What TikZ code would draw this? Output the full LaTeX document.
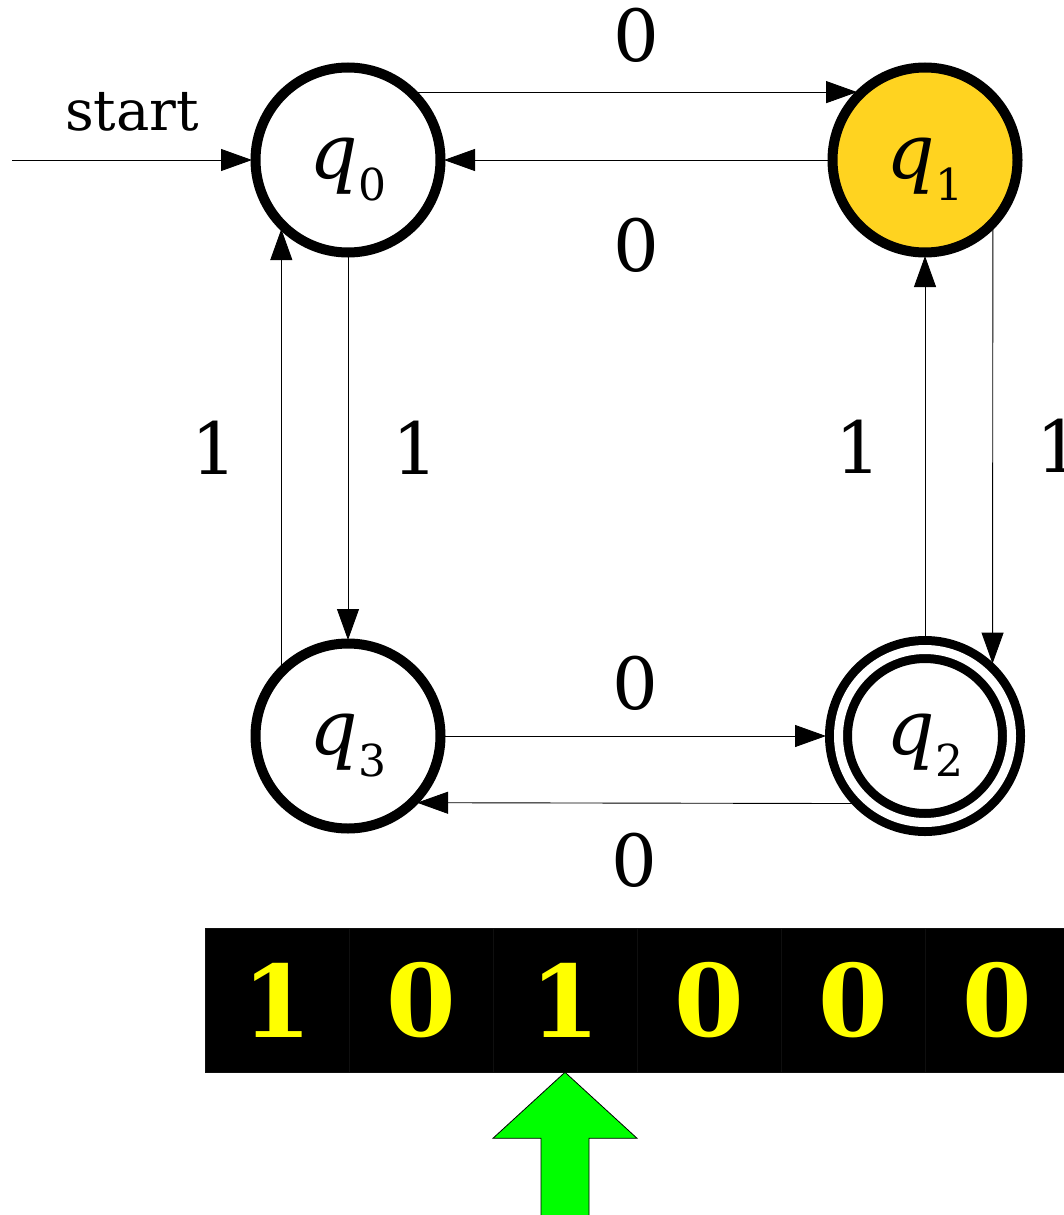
\documentclass[tikz,border=0pt]{standalone}
\usepackage{fontspec}
\setmainfont{DejaVu Serif}
\usetikzlibrary{arrows.meta}
\definecolor{gold}{RGB}{255,211,32}
\definecolor{tapeyellow}{RGB}{255,255,0}
\definecolor{headgreen}{RGB}{0,255,0}
\newcommand{\qname}[1]{{\fontsize{76}{80}\selectfont\itshape q}\kern1pt{\fontsize{44}{48}\selectfont\raisebox{-22pt}{#1}}}

\begin{document}
\begin{tikzpicture}[x=1pt, y=-1pt, ->, >={Triangle[length=31pt,width=22pt]}, line width=0.9pt,
    qstate/.style={circle, draw, line width=10pt, minimum size=185pt, inner sep=0pt, outer sep=3.5pt, fill=white, text height=50pt, text depth=14pt},
    final/.style={double, line width=9pt, double distance=9pt, minimum size=173pt, outer sep=12.5pt},
    lbl/.style={font=\fontsize{72}{80}\selectfont, inner sep=0pt},
    cell/.style={rectangle, fill=black, draw=black!94, line width=0.5pt, minimum width=144pt, minimum height=144pt, inner sep=0pt, font=\fontsize{100}{110}\selectfont\bfseries, text=tapeyellow}]
  \useasboundingbox (0,0) rectangle (1064,1215);

  \node[qstate] (q0) at (348,160) {\qname{0}};
  \node[qstate, fill=gold] (q1) at (925,160) {\qname{1}};
  \node[qstate, final] (q2) at (925,736) {\qname{2}};
  \node[qstate] (q3) at (348,736) {\qname{3}};
  \coordinate (start) at (12,160);

  \draw (start) -- node[font=\fontsize{56}{60}\selectfont, above=28pt, inner sep=0pt] {start} (q0.west);
  \draw (q0.45) -- node[lbl, yshift=57pt] {0} (q1.135);
  \draw (q1.west) -- node[lbl, yshift=-85pt] {0} (q0.east);
  \draw (q0.south) -- node[lbl, xshift=67pt] {1} (q3.north);
  \draw (q3.134) -- node[lbl, xshift=-67pt] {1} (q0.226);
  \draw (q2.north) -- node[lbl, xshift=-67pt] {1} (q1.south);
  \draw (q1.-45) -- node[lbl, xshift=67pt] {1} (q2.47);
  \draw (q3.east) -- node[lbl, yshift=53pt] {0} (q2.west);
  \draw (q2.223) -- node[lbl, yshift=-57pt] {0} (q3.316);

  % tape and head
  \foreach \b [count=\i] in {1,0,1,0,0,0}
    \node[cell] (c\i) at (133+144*\i, 1000) {\b};
  \draw[-, fill=headgreen, draw=black, line width=0.8pt] (c3.south) -- ++(72,66) -- ++(-48,0) -- ++(0,80)
    -- ++(-48,0) -- ++(0,-80) -- ++(-48,0) -- cycle;
\end{tikzpicture}
\end{document}
